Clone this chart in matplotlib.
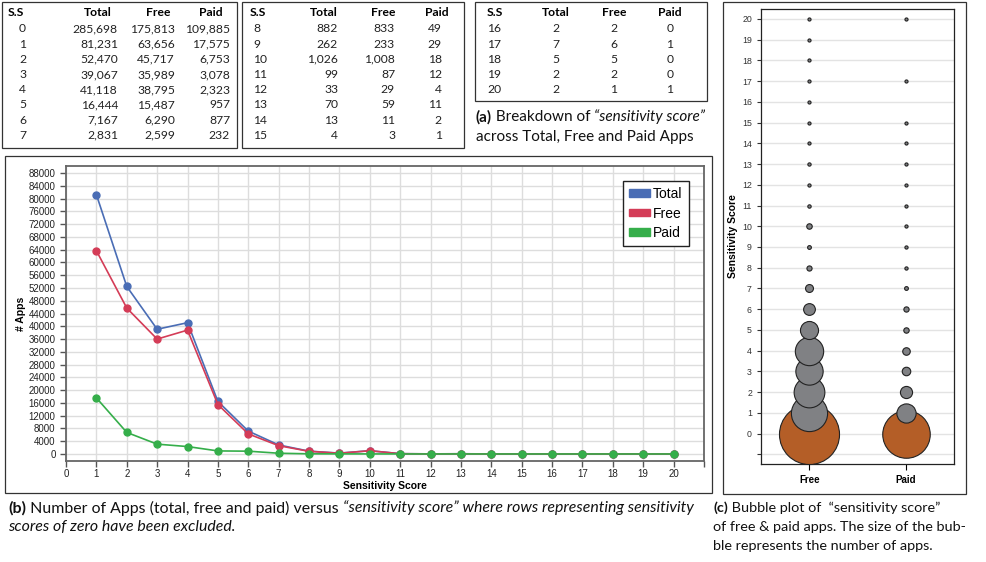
import matplotlib.pyplot as plt
from matplotlib.patches import Rectangle, Patch

# sensitivity score breakdown
scores = list(range(21))
total = [285698, 81231, 52470, 39067, 41118, 16444, 7167, 2831, 882, 262, 1026,
         99, 33, 70, 13, 4, 2, 7, 5, 2, 2]
free = [175813, 63656, 45717, 35989, 38795, 15487, 6290, 2599, 833, 233, 1008,
        87, 29, 59, 11, 3, 2, 6, 5, 2, 1]
paid = [109885, 17575, 6753, 3078, 2323, 957, 877, 232, 49, 29, 18,
        12, 4, 11, 2, 1, 0, 1, 0, 0, 1]
headers = ['S.S', 'Total', 'Free', 'Paid']

CAP = ['Lato', 'DejaVu Sans']
CHART = ['Liberation Sans', 'DejaVu Sans']

W, H = 986, 562
fig = plt.figure(figsize=(W / 100, H / 100), dpi=100)


def fx(x):
    return x / W


def fy(y):
    return 1 - y / H


def frame(x0, y0, x1, y1):
    fig.add_artist(Rectangle((fx(x0), fy(y1)), fx(x1) - fx(x0), fy(y0) - fy(y1),
                             transform=fig.transFigure, fill=False,
                             edgecolor='#333333', lw=0.9))


def rich(x, y, parts, size=10):
    r = fig.canvas.get_renderer()
    for s, w, st in parts:
        t = fig.text(fx(x), fy(y), s, fontsize=size, fontweight=w, fontstyle=st,
                     va='center', ha='left', family=CAP, color='#111111')
        x = t.get_window_extent(r).x1


def table(rows, ss_head_x, ss_x, head_x, num_x, num_ha):
    fs = 8.7
    fig.text(fx(ss_head_x), fy(12), headers[0], fontsize=fs, fontweight='bold',
             va='center', family=CAP)
    for hx, h in zip(head_x, headers[1:]):
        fig.text(fx(hx), fy(12), h, fontsize=fs, fontweight='bold', va='center',
                 ha='center', family=CAP)
    for i, s in enumerate(rows):
        y = 29 + 15.2 * i
        fig.text(fx(ss_x), fy(y), str(s), fontsize=fs, va='center', family=CAP,
                 color='#222222')
        for nx, col in zip(num_x, [total, free, paid]):
            fig.text(fx(nx), fy(y), f'{col[s]:,}', fontsize=fs, va='center',
                     ha=num_ha, family=CAP, color='#222222')


# (a) tables
frame(2, 2, 237, 148)
table(scores[0:8], 8, 19, [98, 158, 211], [118, 175, 230], 'right')
frame(242, 2, 464, 148)
table(scores[8:16], 250, 253, [324, 383, 437], [338, 395, 442], 'right')
frame(475, 2, 707, 101)
table(scores[16:21], 487, 487, [556, 614, 670], [556, 614, 670], 'center')
rich(476, 117, [('(a)', 'bold', 'normal'), (' Breakdown of ', 'normal', 'normal'),
                ('\u201csensitivity score\u201d', 'normal', 'italic')], size=11)
rich(476, 137, [('across Total, Free and Paid Apps', 'normal', 'normal')], size=11)

# (b) line chart, score 0 excluded
frame(5, 156, 712, 493)
ax = fig.add_axes([fx(66), fy(461), fx(704) - fx(66), fy(166) - fy(461)])
s1 = scores[1:]
ax.plot(s1, total[1:], color='#4a6db5', lw=1.2, marker='o', ms=5, label='Total', zorder=3)
ax.plot(s1, free[1:], color='#d43c57', lw=1.2, marker='o', ms=5, label='Free', zorder=3)
ax.plot(s1, paid[1:], color='#35ae4a', lw=1.2, marker='o', ms=5, label='Paid', zorder=3)
ax.set_xlim(0, 21)
ax.set_ylim(-2200, 90200)
ax.set_xticks(range(22))
ax.set_xticklabels([str(i) for i in range(21)] + [''])
ax.set_yticks(range(0, 88001, 4000))
ax.grid(True, color='#dddddd', lw=1)
ax.set_axisbelow(True)
ax.tick_params(labelsize=7, colors='#555555', labelcolor='#222222', length=4, width=1)
ax.tick_params(axis='x', pad=2)
for lab in ax.get_xticklabels() + ax.get_yticklabels():
    lab.set_family(CHART)
for sp in ax.spines.values():
    sp.set_color('#666666')
    sp.set_linewidth(1.3)
ax.set_xlabel('Sensitivity Score', fontsize=7.5, fontweight='bold', family=CHART, labelpad=1)
ax.set_ylabel('# Apps', fontsize=7.5, fontweight='bold', family=CHART, labelpad=2)
handles = [Patch(color='#4a6db5'), Patch(color='#d43c57'), Patch(color='#35ae4a')]
ax.legend(handles, ['Total', 'Free', 'Paid'], loc='upper left', bbox_to_anchor=(0.873, 0.95),
          prop={'family': CHART, 'size': 10}, fancybox=False, framealpha=1,
          edgecolor='#222222', handlelength=1.5, handleheight=0.45, handletextpad=0.2,
          borderpad=0.45, labelspacing=0.4, borderaxespad=0)

rich(8, 508, [('(b)', 'bold', 'normal'),
              (' Number of Apps (total, free and paid) versus ', 'normal', 'normal'),
              ('\u201csensitivity score\u201d where rows representing sensitivity', 'normal', 'italic')],
     size=11.4)
rich(8, 527, [('scores of zero have been excluded.', 'normal', 'italic')], size=11.4)

# (c) bubble plot
frame(723, 2, 966, 494)
bx = fig.add_axes([fx(761), fy(464), fx(954) - fx(761), fy(9) - fy(464)])
for xi, col in enumerate([free, paid]):
    for s in scores:
        if col[s] > 0:
            bx.scatter(xi, s, s=col[s] * 0.0106 + 5,
                       color='#b45e27' if s == 0 else '#808184',
                       edgecolors='#222222', linewidths=0.8, zorder=3, clip_on=False)
bx.set_xlim(-0.5, 1.5)
bx.set_ylim(-1.47, 20.48)
bx.set_yticks(range(-1, 21))
bx.set_yticklabels([''] + [str(i) for i in range(21)])
bx.set_xticks([0, 1])
bx.set_xticklabels(['Free', 'Paid'], fontweight='bold', fontsize=7, family=CHART)
bx.yaxis.grid(True, color='#e3e3e3', lw=1)
bx.set_axisbelow(True)
bx.tick_params(axis='y', labelsize=6.3, length=3, width=0.8, colors='#333333')
bx.tick_params(axis='x', length=4, width=0.8, pad=4)
for lab in bx.get_yticklabels():
    lab.set_family(CHART)
for sp in bx.spines.values():
    sp.set_color('#222222')
    sp.set_linewidth(0.9)
bx.set_ylabel('Sensitivity Score', fontsize=7.5, fontweight='bold', family=CHART, labelpad=3)

rich(713, 508, [('(c)', 'bold', 'normal'), (' Bubble plot of  \u201csensitivity score\u201d', 'normal', 'normal')],
     size=10.4)
rich(713, 527, [('of free & paid apps. The size of the bub-', 'normal', 'normal')], size=10.4)
rich(713, 546, [('ble represents the number of apps.', 'normal', 'normal')], size=10.4)

fig.savefig('out.png', dpi=100)
